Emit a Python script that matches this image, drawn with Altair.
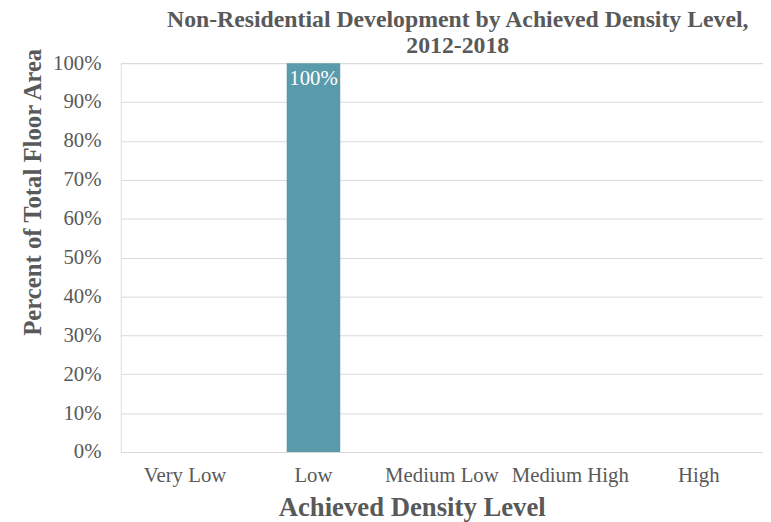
import altair as alt
import pandas as pd

categories = ["Very Low", "Low", "Medium Low", "Medium High", "High"]
values = [None, 1.0, None, None, None]
labels = ["", "100%", "", "", ""]
y_ticks = [0.0, 0.1, 0.2, 0.3, 0.4, 0.5, 0.6, 0.7, 0.8, 0.9, 1.0]

df = pd.DataFrame({"cat": categories, "val": values, "lab": labels})

FONT = "Liberation Serif"
GRAY = "#595959"

x = alt.X("cat:N", sort=categories,
          scale=alt.Scale(paddingInner=0.5833, paddingOuter=0.2917),
          axis=alt.Axis(title="Achieved Density Level", labelAngle=0, ticks=False,
                        domainColor="#d9d9d9", labelPadding=13, labelFontSize=21,
                        labelColor=GRAY, labelFont=FONT, titleFont=FONT,
                        titleFontSize=27, titleFontWeight="bold", titleColor=GRAY,
                        titleX=294, titleY=56, titleAlign="center", titleBaseline="middle"))

y = alt.Y("val:Q", scale=alt.Scale(domain=[0, 1]),
          axis=alt.Axis(title="Percent of Total Floor Area", format=".0%",
                        values=y_ticks, labelOverlap=False, tickCount=11,
                        ticks=False, domain=False, gridColor="#d9d9d9",
                        labelPadding=20, labelFontSize=21, labelColor=GRAY,
                        labelFont=FONT, titleFont=FONT, titleFontSize=25,
                        titleFontWeight="bold", titleColor=GRAY,
                        titleX=-89, titleY=130, titleAngle=270,
                        titleAlign="center", titleBaseline="middle"))

bars = alt.Chart(df).mark_bar(color="#5a9bab").encode(x=x, y=y)
text = alt.Chart(df).mark_text(color="white", font=FONT, fontSize=21, baseline="middle", dy=16).encode(
    x=x, y=y, text="lab:N")

chart = (bars + text).properties(
    width=649, height=393,
    title=alt.TitleParams(["Non-Residential  Development by Achieved Density Level,", "2012-2018"],
                          font=FONT, fontSize=24, fontWeight="bold", color=GRAY,
                          anchor="middle", dx=16, offset=-11, lineHeight=26),
    autosize=alt.AutoSizeParams(type="none"),
    padding={"left": 114, "top": 53, "right": 0, "bottom": 68},
).configure_view(stroke="transparent", strokeWidth=0).configure(background="white")

chart.save("out.html", embed_options={"renderer": "svg", "actions": False})
